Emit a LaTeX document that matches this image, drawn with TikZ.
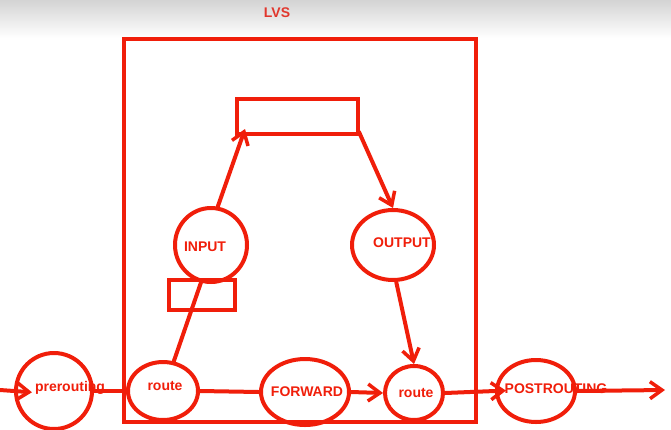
\documentclass[tikz,border=0pt]{standalone}
\usepackage{fontspec}
\setmainfont{Liberation Sans}
\usetikzlibrary{shapes.geometric,arrows.meta}
\definecolor{pen}{RGB}{240,30,10}
\definecolor{ttl}{RGB}{225,55,45}
\begin{document}
\begin{tikzpicture}[x=1pt,y=-1pt,
  stroke/.style={draw=pen,line width=4pt},
  ell/.style={stroke,ellipse,inner sep=0pt},
  box/.style={stroke,rectangle,inner sep=0pt},
  lbl/.style={text=pen,font=\fontsize{14}{14}\selectfont\bfseries,inner sep=0pt},
  conn/.style={pen,line width=4pt,line cap=round},
  arr/.style={conn,-{Straight Barb[length=12pt,width=17pt,line width=3.5pt]}}]
\useasboundingbox (0,0) rectangle (671,429);
\shade[top color=black!17,bottom color=white] (0,0) rectangle (671,38);
\node[text=ttl,font=\fontsize{14}{14}\selectfont\bfseries] (title) at (277,13) {LVS};
% LVS box
\node[box,minimum width=352pt,minimum height=383pt] (lvs) at (300,230.5) {};
% top rectangle
\node[box,minimum width=121pt,minimum height=35pt] (top) at (297.5,116.5) {};
\node[box,minimum width=66pt,minimum height=30pt] (small) at (202,295) {};
% ellipses
\node[ell,minimum width=72pt,minimum height=74pt] (in) at (211,245) {};
\node[ell,minimum width=82pt,minimum height=70pt] (out) at (393,245) {};
\node[ell,minimum width=76pt,minimum height=76pt] (pre) at (54,391) {};
\node[ell,minimum width=70pt,minimum height=58pt] (r1) at (163,391) {};
\node[ell,minimum width=88pt,minimum height=66pt] (fwd) at (305,392) {};
\node[ell,minimum width=58pt,minimum height=54pt] (r2) at (414,393) {};
\node[ell,minimum width=78pt,minimum height=62pt] (post) at (536,391) {};
\coordinate (src) at (0,390);
\coordinate (snk) at (665,390);
% connectors
\draw[arr,shorten >=-18pt] (src) -- (pre.west);
\draw[conn] (pre.east) -- (r1.west);
\draw[conn] (r1.east) -- (fwd.west);
\draw[arr] (fwd.east) -- (r2.west);
\draw[arr,shorten >=-11pt] (r2.east) -- (post.west);
\draw[arr] (post.east) -- (snk);
\draw[conn] (r1.70) -- (in.-105);
\draw[arr] (in.80) -- ([shift={(10,-7)}]top.south west);
\draw[arr] ([shift={(-1,-4)}]top.south east) -- (out.north);
\draw[arr] (out.-85) -- (r2.north);
% labels
\node[lbl] (tin) at (205,247) {INPUT};
\node[lbl] (tout) at (402,243) {OUTPUT};
\node[lbl] (tpre) at (70,388) {prerouting};
\node[lbl] (tr1) at (165,386) {route};
\node[lbl] (tfwd) at (307,392) {FORWARD};
\node[lbl] (tr2) at (416,393) {route};
\node[lbl] (tpost) at (556,389) {POSTROUTING};
\end{tikzpicture}
\end{document}
